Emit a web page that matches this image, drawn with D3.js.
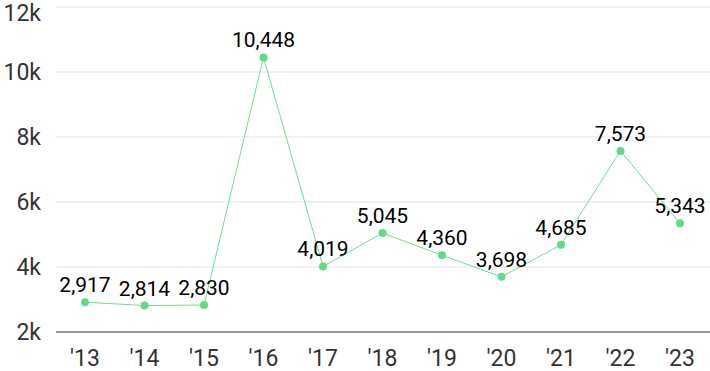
<!DOCTYPE html>
<html>
<head>
<meta charset="utf-8">
<script src="https://cdn.jsdelivr.net/npm/d3@7"></script>
<style>
  body { margin: 0; background: #fff; }
  svg { display: block; font-family: Roboto, sans-serif; }
</style>
</head>
<body>
<svg id="chart"></svg>
<script>
const years = ["'13", "'14", "'15", "'16", "'17", "'18", "'19", "'20", "'21", "'22", "'23"];
const values = [2917, 2814, 2830, 10448, 4019, 5045, 4360, 3698, 4685, 7573, 5343];
const yTicks = [2000, 4000, 6000, 8000, 10000, 12000];

const width = 710, height = 371;
const margin = { top: 7, right: 0, bottom: 39, left: 56 };

const svg = d3.select("#chart").attr("width", width).attr("height", height);

const x = d3.scalePoint()
	.domain(years)
	.range([85, 680]);

const y = d3.scaleLinear()
	.domain([2000, 12000])
	.range([height - margin.bottom, margin.top]);

// grid
svg.selectAll("line.grid")
	.data(yTicks)
	.enter()
	.append("line")
	.attr("class", "grid")
	.attr("x1", margin.left)
	.attr("x2", width)
	.attr("y1", (d) => y(d))
	.attr("y2", (d) => y(d))
	.attr("stroke", (d) => d === 2000 ? "#333" : "#e3e3e3")
	.attr("stroke-width", 1);

svg.selectAll("text.ylab")
	.data(yTicks)
	.enter()
	.append("text")
	.attr("class", "ylab")
	.attr("x", 41)
	.attr("y", (d) => Math.max(y(d), 13))
	.attr("dy", "0.35em")
	.attr("text-anchor", "end")
	.attr("fill", "#333")
	.attr("font-size", 23)
	.text((d) => d / 1000 + "k");

svg.selectAll("text.xlab")
	.data(years)
	.enter()
	.append("text")
	.attr("class", "xlab")
	.attr("x", (d) => x(d))
	.attr("y", 366)
	.attr("text-anchor", "middle")
	.attr("fill", "#333")
	.attr("font-size", 23)
	.text((d) => d);

const line = d3.line()
	.x((d, i) => x(years[i]))
	.y((d) => y(d));

svg.append("path")
	.datum(values)
	.attr("d", line)
	.attr("fill", "none")
	.attr("stroke", "#6fdc93")
	.attr("stroke-width", 1);

svg.selectAll("circle.pt")
	.data(values)
	.enter()
	.append("circle")
	.attr("class", "pt")
	.attr("cx", (d, i) => x(years[i]))
	.attr("cy", (d) => y(d))
	.attr("r", 4)
	.attr("fill", "#63d98a");

svg.selectAll("text.val")
	.data(values)
	.enter()
	.append("text")
	.attr("class", "val")
	.attr("x", (d, i) => x(years[i]))
	.attr("y", (d) => y(d) - 10)
	.attr("text-anchor", "middle")
	.attr("fill", "#000")
	.attr("font-size", 21)
	.text((d) => d3.format(",")(d));
</script>
</body>
</html>
